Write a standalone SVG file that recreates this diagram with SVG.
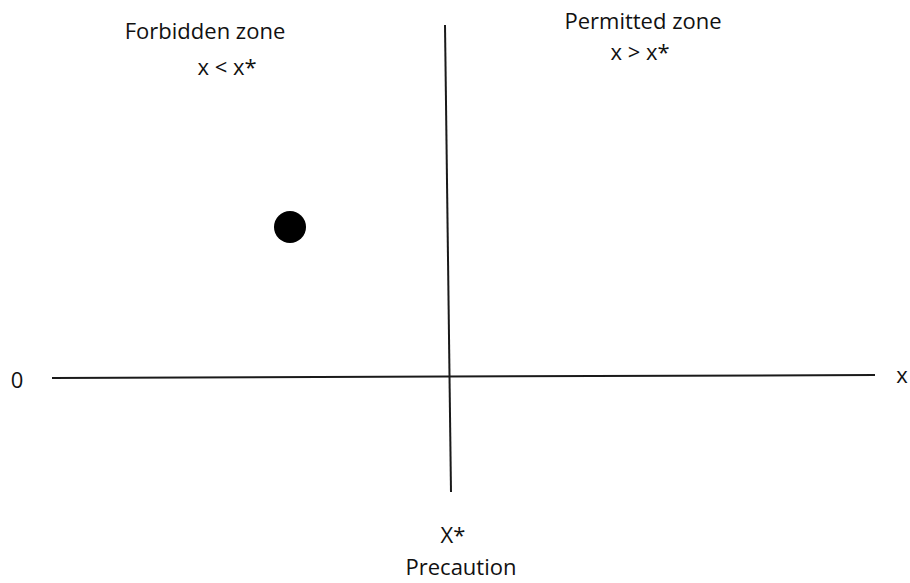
<svg xmlns="http://www.w3.org/2000/svg" width="910" height="583" viewBox="0 0 910 583">
<style>
text{font-family:"Open Sans","Liberation Sans",sans-serif;font-size:22px;fill:#111;text-anchor:middle}
.ax{stroke:#1a1a1a;stroke-width:2;fill:none}
</style>
<rect width="910" height="583" fill="#fff"/>
<g id="connectors">
<line class="ax" x1="52" y1="378" x2="875" y2="375"/>
<line class="ax" x1="445" y1="25" x2="451" y2="492"/>
</g>
<g id="dot"><circle cx="290" cy="227" r="16" fill="#000"/></g>
<g id="forbidden"><text x="205" y="39">Forbidden zone</text><text x="227" y="75">x &lt; x*</text></g>
<g id="permitted"><text x="643" y="29">Permitted zone</text><text x="640" y="60">x &gt; x*</text></g>
<g id="origin"><text x="17" y="388">0</text></g>
<g id="xlabel"><text x="902" y="383">x</text></g>
<g id="precaution"><text x="453" y="543">X*</text><text x="461" y="575">Precaution</text></g>
</svg>
